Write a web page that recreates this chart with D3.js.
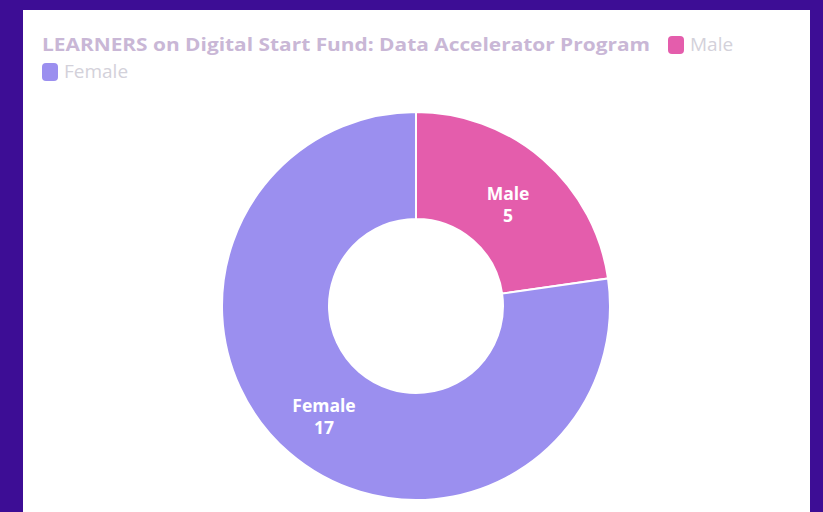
<!DOCTYPE html>
<html>
<head>
<meta charset="utf-8">
<script src="https://cdn.jsdelivr.net/npm/d3@7"></script>
<style>
  html, body { margin: 0; padding: 0; background: #3d0d95; }
  svg { display: block; }
</style>
</head>
<body>
<script>
// data
var categories = ['Male', 'Female'];
var values = [5, 17];
var colors = ['#e45dac', '#9b8fef'];
var title = 'LEARNERS on Digital Start Fund: Data Accelerator Program';

var W = 823, H = 512;
var svg = d3.select('body').append('svg')
  .attr('width', W)
  .attr('height', H);

// white panel
svg.append('rect')
  .attr('x', 23).attr('y', 10)
  .attr('width', 787).attr('height', H - 10)
  .attr('fill', '#ffffff');

// title
svg.append('text')
  .attr('x', 42).attr('y', 51)
  .attr('font-family', 'Open Sans, sans-serif')
  .attr('font-weight', 700)
  .attr('font-size', 18.5)
  .attr('fill', '#c9b7d6')
  .attr('textLength', 608)
  .attr('lengthAdjust', 'spacingAndGlyphs')
  .text(title);

// legend (wraps on two lines like the original)
var legendPos = [{x: 668, y: 36}, {x: 42, y: 63}];
var legend = svg.selectAll('g.legend').data(categories).enter().append('g')
  .attr('class', 'legend')
  .attr('transform', function(d, i) { return 'translate(' + legendPos[i].x + ',' + legendPos[i].y + ')'; });
legend.append('rect')
  .attr('width', 16).attr('height', 18)
  .attr('rx', 4).attr('ry', 4)
  .attr('fill', function(d, i) { return colors[i]; });
legend.append('text')
  .attr('x', 22).attr('y', 15)
  .attr('font-family', 'Open Sans, sans-serif')
  .attr('font-size', 19)
  .attr('fill', '#d3d1da')
  .text(function(d) { return d; });

// donut
var cx = 416, cy = 306, outerR = 194, innerR = 87;
var pie = d3.pie().sort(null).value(function(d) { return d; });
var arc = d3.arc().innerRadius(innerR).outerRadius(outerR);
var arcs = pie(values);

var g = svg.append('g').attr('transform', 'translate(' + cx + ',' + cy + ')');
g.selectAll('path').data(arcs).enter().append('path')
  .attr('d', arc)
  .attr('fill', function(d, i) { return colors[i]; })
  .attr('stroke', '#ffffff')
  .attr('stroke-width', 2);

var labels = g.selectAll('text.lbl').data(arcs).enter().append('text')
  .attr('class', 'lbl')
  .attr('transform', function(d) { return 'translate(' + arc.centroid(d) + ')'; })
  .attr('text-anchor', 'middle')
  .attr('font-family', 'Open Sans, sans-serif')
  .attr('font-weight', 700)
  .attr('font-size', 17.5)
  .attr('fill', '#ffffff');
labels.append('tspan').attr('x', 0).attr('y', 0)
  .text(function(d, i) { return categories[i]; });
labels.append('tspan').attr('x', 0).attr('y', 22)
  .text(function(d) { return d.value; });
</script>
</body>
</html>
